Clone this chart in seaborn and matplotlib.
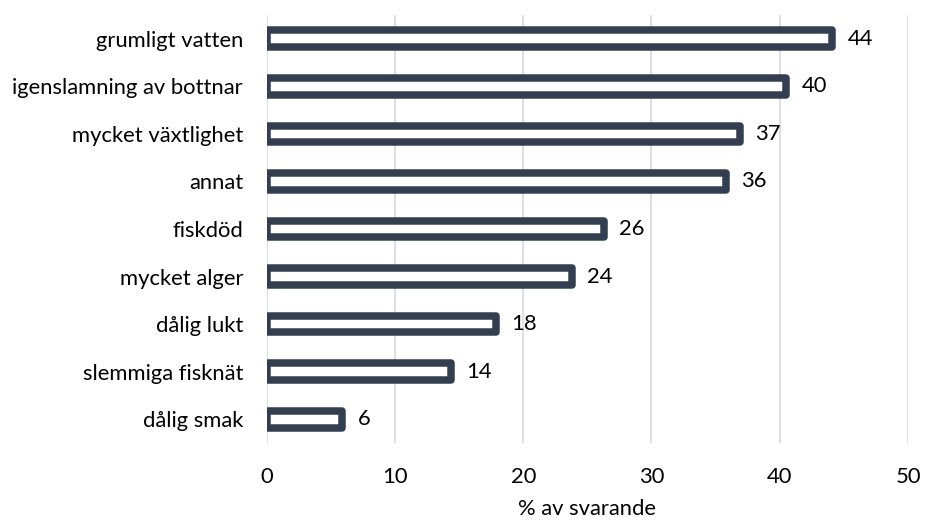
import matplotlib
matplotlib.use("Agg")
import matplotlib.pyplot as plt
import seaborn as sns
import pandas as pd

categories = ["grumligt vatten", "igenslamning av bottnar", "mycket växtlighet",
              "annat", "fiskdöd", "mycket alger", "dålig lukt",
              "slemmiga fisknät", "dålig smak"]
values = [44.1, 40.5, 36.9, 35.8, 26.3, 23.8, 17.9, 14.4, 5.9]
value_labels = [f"{round(v)}" for v in values]
x_ticks = [0, 10, 20, 30, 40, 50]
x_label = "% av svarande"

sns.set_theme(style="white")
plt.rcParams["font.family"] = ["Lato", "DejaVu Sans"]

df = pd.DataFrame({"kategori": categories, "andel": values})

fig = plt.figure(figsize=(9.25, 5.22), dpi=100)
ax = fig.add_axes([0.2883, 0.1513, 0.6933, 0.8200])

fs = 15.8
bar_color = "#333F50"
sns.barplot(data=df, x="andel", y="kategori", orient="h", color="white",
            edgecolor=bar_color, linewidth=5.4, width=0.35, ax=ax,
            saturation=1)
for p in ax.patches:
    p.set_joinstyle("round")
    p.set_facecolor("white")
    p.set_edgecolor(bar_color)

ax.bar_label(ax.containers[0], labels=value_labels, padding=11,
             fontsize=fs, color="#000000")

ax.set_xlim(0, 50)
ax.set_ylim(8.5, -0.5)
ax.set_xticks(x_ticks)
ax.set_xticklabels([str(t) for t in x_ticks])
ax.xaxis.grid(True, color="#D9D9D9", linewidth=1.2)
ax.yaxis.grid(False)
ax.set_axisbelow(True)
for s in ax.spines.values():
    s.set_visible(False)
ax.tick_params(axis="x", length=0, pad=17, labelsize=fs, colors="#000000")
ax.tick_params(axis="y", length=0, pad=17, labelsize=fs, colors="#000000")
ax.set_ylabel("")
ax.set_xlabel(x_label, fontsize=fs, color="#000000", labelpad=9)

fig.savefig("out.png", dpi=100, facecolor="white")
